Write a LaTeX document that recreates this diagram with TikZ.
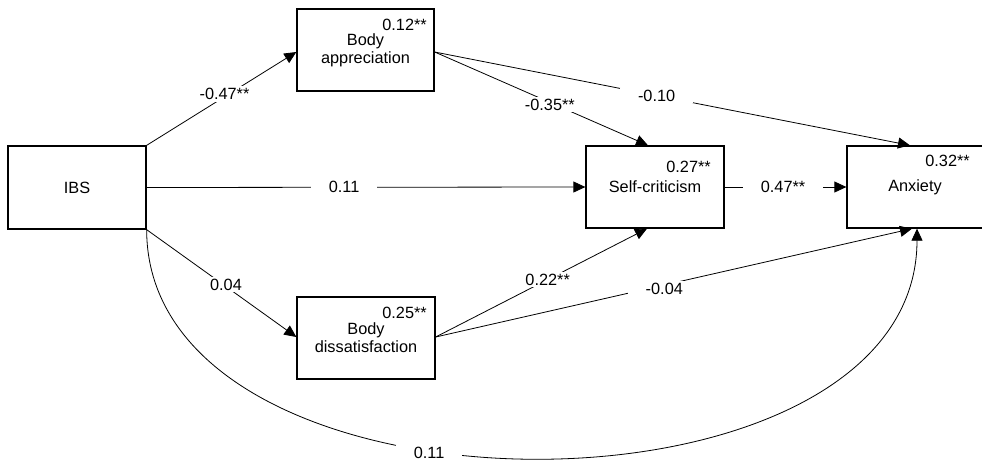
\documentclass[tikz,border=0pt]{standalone}
\usepackage{fontspec}
\setmainfont{Liberation Sans}
\usetikzlibrary{arrows.meta}
\begin{document}
\begin{tikzpicture}[x=1pt,y=-1pt,
  box/.style={draw, line width=1.3pt, inner sep=0pt, align=center, font=\fontsize{16.3}{18}\selectfont},
  coef/.style={inner sep=0pt, anchor=east, font=\fontsize{16.3}{18}\selectfont},
  conn/.style={line width=0.8pt, -{Triangle[length=12pt,width=11pt]}},
  lab/.style={fill=white, inner xsep=18pt, inner ysep=2pt, font=\fontsize{16.3}{18}\selectfont}]
\useasboundingbox (0,0) rectangle (982,461);
% boxes
\node[box, minimum width=138pt, minimum height=83pt] (ibs) at (77,187.5) {IBS};
\node[box, minimum width=137pt, minimum height=82pt] (ba) at (365.5,50) {Body\\appreciation};
\node[box, minimum width=138pt, minimum height=82pt] (sc) at (655,187) {Self-criticism};
\node[box, minimum width=136pt, minimum height=82pt] (anx) at (915,187) {Anxiety};
\node[box, minimum width=138pt, minimum height=82pt] (bd) at (366,338) {Body\\dissatisfaction};
% R squared
\node[coef] (rba) at (427,25) {0.12**};
\node[coef] (rsc) at (711,167) {0.27**};
\node[coef] (ranx) at (970,161) {0.32**};
\node[coef] (rbd) at (427,313) {0.25**};
% connectors
\draw[conn] (ibs.north east) -- ([yshift=-2pt]ba.west) node[lab, pos=0.52, yshift=3pt] (l1) {-0.47**};
\draw[conn] (ibs.east) -- (sc.west) node[lab, pos=0.45] (l2) {0.11};
\draw[conn] (ibs.south east) -- ([yshift=1pt]bd.west) node[lab, inner xsep=10pt, pos=0.53, yshift=2pt] (l3) {0.04};
\draw[conn] ([yshift=-2pt]ba.east) -- ([xshift=-7pt]sc.north) node[lab, pos=0.54, yshift=-2pt] (l4) {-0.35**};
\draw[conn] ([yshift=-2pt]ba.east) -- ([xshift=-5pt]anx.north) node[lab, pos=0.467] (l5) {-0.10};
\draw[conn] (sc.east) -- (anx.west) node[lab, pos=0.48] (l6) {0.47**};
\draw[conn] ([yshift=1pt]bd.east) -- ([xshift=-8pt]sc.south) node[lab, pos=0.53] (l7) {0.22**};
\draw[conn] ([yshift=1pt]bd.east) -- ([xshift=-3pt]anx.south) node[lab, pos=0.48, yshift=-4pt] (l8) {-0.04};
\draw[conn] (ibs.south east) .. controls (147,534) and (917,534) .. ([xshift=2pt]anx.south) node[lab, pos=0.41, yshift=-2pt] (l9) {0.11};
\end{tikzpicture}
\end{document}
